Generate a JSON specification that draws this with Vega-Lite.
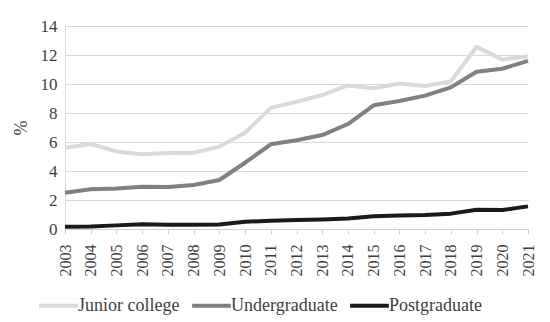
{
  "$schema": "https://vega.github.io/schema/vega-lite/v6.json",
  "width": 463,
  "height": 203,
  "autosize": {"type": "none"},
  "padding": {"left": 65, "top": 26, "right": 22, "bottom": 93},
  "background": "white",
  "config": {
    "view": {"stroke": null},
    "font": "Liberation Serif",
    "axis": {"labelFont": "Liberation Serif", "titleFont": "Liberation Serif", "labelColor": "#404040", "titleColor": "#404040"}
  },
  "data": {
    "values": [
      {"year": "2003", "series": "Junior college", "value": 5.61},
      {"year": "2004", "series": "Junior college", "value": 5.86},
      {"year": "2005", "series": "Junior college", "value": 5.35},
      {"year": "2006", "series": "Junior college", "value": 5.15},
      {"year": "2007", "series": "Junior college", "value": 5.24},
      {"year": "2008", "series": "Junior college", "value": 5.26},
      {"year": "2009", "series": "Junior college", "value": 5.68},
      {"year": "2010", "series": "Junior college", "value": 6.64},
      {"year": "2011", "series": "Junior college", "value": 8.35},
      {"year": "2012", "series": "Junior college", "value": 8.78},
      {"year": "2013", "series": "Junior college", "value": 9.24},
      {"year": "2014", "series": "Junior college", "value": 9.9},
      {"year": "2015", "series": "Junior college", "value": 9.7},
      {"year": "2016", "series": "Junior college", "value": 10.03},
      {"year": "2017", "series": "Junior college", "value": 9.86},
      {"year": "2018", "series": "Junior college", "value": 10.18},
      {"year": "2019", "series": "Junior college", "value": 12.57},
      {"year": "2020", "series": "Junior college", "value": 11.68},
      {"year": "2021", "series": "Junior college", "value": 11.92},
      {"year": "2003", "series": "Undergraduate", "value": 2.5},
      {"year": "2004", "series": "Undergraduate", "value": 2.74},
      {"year": "2005", "series": "Undergraduate", "value": 2.8},
      {"year": "2006", "series": "Undergraduate", "value": 2.92},
      {"year": "2007", "series": "Undergraduate", "value": 2.9},
      {"year": "2008", "series": "Undergraduate", "value": 3.03},
      {"year": "2009", "series": "Undergraduate", "value": 3.38},
      {"year": "2010", "series": "Undergraduate", "value": 4.57},
      {"year": "2011", "series": "Undergraduate", "value": 5.84},
      {"year": "2012", "series": "Undergraduate", "value": 6.12},
      {"year": "2013", "series": "Undergraduate", "value": 6.48},
      {"year": "2014", "series": "Undergraduate", "value": 7.24},
      {"year": "2015", "series": "Undergraduate", "value": 8.53},
      {"year": "2016", "series": "Undergraduate", "value": 8.83},
      {"year": "2017", "series": "Undergraduate", "value": 9.2},
      {"year": "2018", "series": "Undergraduate", "value": 9.77},
      {"year": "2019", "series": "Undergraduate", "value": 10.85},
      {"year": "2020", "series": "Undergraduate", "value": 11.05},
      {"year": "2021", "series": "Undergraduate", "value": 11.6},
      {"year": "2003", "series": "Postgraduate", "value": 0.16},
      {"year": "2004", "series": "Postgraduate", "value": 0.17},
      {"year": "2005", "series": "Postgraduate", "value": 0.25},
      {"year": "2006", "series": "Postgraduate", "value": 0.32},
      {"year": "2007", "series": "Postgraduate", "value": 0.3},
      {"year": "2008", "series": "Postgraduate", "value": 0.3},
      {"year": "2009", "series": "Postgraduate", "value": 0.31},
      {"year": "2010", "series": "Postgraduate", "value": 0.5},
      {"year": "2011", "series": "Postgraduate", "value": 0.57},
      {"year": "2012", "series": "Postgraduate", "value": 0.62},
      {"year": "2013", "series": "Postgraduate", "value": 0.66},
      {"year": "2014", "series": "Postgraduate", "value": 0.72},
      {"year": "2015", "series": "Postgraduate", "value": 0.88},
      {"year": "2016", "series": "Postgraduate", "value": 0.93},
      {"year": "2017", "series": "Postgraduate", "value": 0.96},
      {"year": "2018", "series": "Postgraduate", "value": 1.06},
      {"year": "2019", "series": "Postgraduate", "value": 1.33},
      {"year": "2020", "series": "Postgraduate", "value": 1.31},
      {"year": "2021", "series": "Postgraduate", "value": 1.56}
    ]
  },
  "mark": {"type": "line", "strokeWidth": 4, "strokeJoin": "round"},
  "encoding": {
    "x": {
      "field": "year", "type": "ordinal",
      "scale": {"type": "point", "padding": 0},
      "axis": {
        "title": null, "labelAngle": -90, "labelFontSize": 16, "labelPadding": 10,
        "domainColor": "#d0d0d0", "tickColor": "#d0d0d0", "tickSize": 5, "grid": false,
        "labelBaseline": "middle", "labelAlign": "right"
      }
    },
    "y": {
      "field": "value", "type": "quantitative",
      "scale": {"domain": [0, 14]},
      "axis": {
        "title": "%", "titleFontSize": 18, "titleFontWeight": "normal", "titlePadding": 10,
        "values": [0, 2, 4, 6, 8, 10, 12, 14], "labelFontSize": 17, "labelPadding": 8,
        "ticks": false, "domainColor": "#d9d9d9", "gridColor": "#d9d9d9", "gridWidth": 1.2
      }
    },
    "color": {
      "field": "series", "type": "nominal",
      "sort": ["Junior college", "Undergraduate", "Postgraduate"],
      "scale": {"domain": ["Junior college", "Undergraduate", "Postgraduate"], "range": ["#d9d9d9", "#808080", "#1a1a1a"]},
      "legend": {
        "title": null, "orient": "none", "direction": "horizontal", "legendX": -28, "legendY": 258,
        "symbolType": "stroke", "symbolStrokeWidth": 4, "symbolSize": 1500,
        "labelFontSize": 18, "labelColor": "#404040", "labelOffset": -2, "columnPadding": 4
      }
    }
  }
}
